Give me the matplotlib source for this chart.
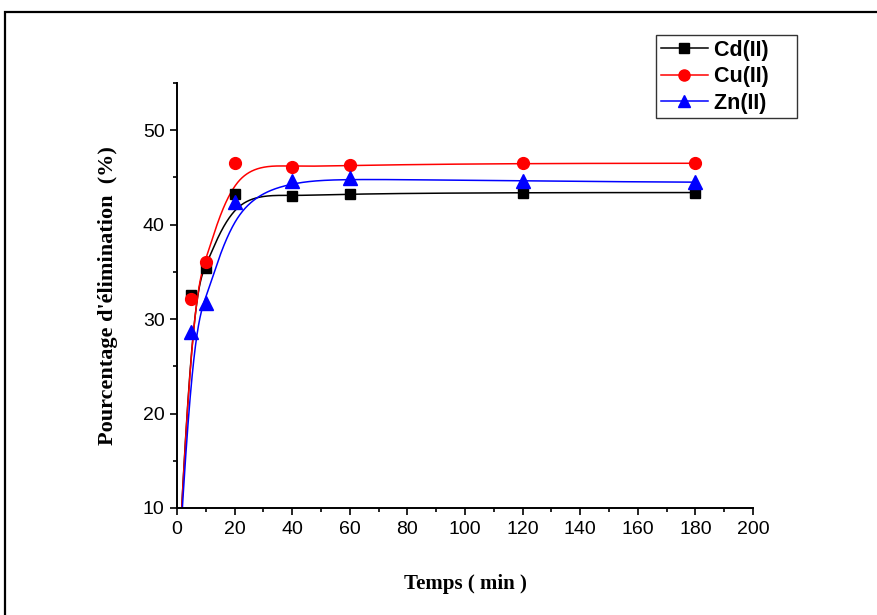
import numpy as np
import matplotlib
matplotlib.use("Agg")
import matplotlib.pyplot as plt
from matplotlib.patches import Rectangle
from matplotlib.ticker import MultipleLocator

# Contact time (min); the origin is included as the start of each kinetic curve
time_min = [0, 5, 10, 20, 40, 60, 120, 180]

cd_removal = [0, 32.6, 35.4, 43.3, 43.0, 43.3, 43.4, 43.4]
cu_removal = [0, 32.1, 36.0, 46.5, 46.1, 46.3, 46.5, 46.5]
zn_removal = [0, 28.6, 31.7, 42.4, 44.6, 44.9, 44.6, 44.5]

series_labels = ["Cd(II)", "Cu(II)", "Zn(II)"]


def bspline_curve(xs, ys, degree=3, num=600):
    """Clamped uniform B-spline using the measured points as control points."""
    pts = np.column_stack([xs, ys]).astype(float)
    n = len(pts)
    inner = np.linspace(0.0, 1.0, n - degree + 1)
    knots = np.concatenate([np.zeros(degree), inner, np.ones(degree)])
    u = np.linspace(0.0, 1.0 - 1e-10, num)
    # Cox-de Boor recursion
    N = np.zeros((num, len(knots) - 1))
    for i in range(len(knots) - 1):
        N[:, i] = (u >= knots[i]) & (u < knots[i + 1])
    for p in range(1, degree + 1):
        Nn = np.zeros((num, len(knots) - 1 - p))
        for i in range(len(knots) - 1 - p):
            d1 = knots[i + p] - knots[i]
            d2 = knots[i + p + 1] - knots[i + 1]
            a = (u - knots[i]) / d1 * N[:, i] if d1 > 0 else 0.0
            b = (knots[i + p + 1] - u) / d2 * N[:, i + 1] if d2 > 0 else 0.0
            Nn[:, i] = a + b
        N = Nn
    curve = N @ pts
    curve = np.vstack([curve, pts[-1]])
    return curve[:, 0], curve[:, 1]


fig = plt.figure(figsize=(8.77, 6.15), dpi=100)
ax = fig.add_axes([177 / 877, 1 - 508 / 615, 576 / 877, 425 / 615])

styles = [
    (cd_removal, "black", "s", 7.5),
    (cu_removal, "red", "o", 8.5),
    (zn_removal, "blue", "^", 9.5),
]

handles = []
for (vals, color, marker, ms), label in zip(styles, series_labels):
    cx, cy = bspline_curve(time_min, vals)
    ax.plot(cx, cy, color=color, lw=1.1, zorder=2)
    ax.plot(time_min, vals, linestyle="none", marker=marker, ms=ms,
            color=color, zorder=3, clip_on=True)
    h, = ax.plot([], [], color=color, lw=1.1, marker=marker, ms=ms - 0.5,
                 label=label)
    handles.append(h)

ax.set_xlim(0, 200)
ax.set_ylim(10, 55)
ax.xaxis.set_major_locator(MultipleLocator(20))
ax.xaxis.set_minor_locator(MultipleLocator(10))
ax.yaxis.set_major_locator(MultipleLocator(10))
ax.yaxis.set_minor_locator(MultipleLocator(5))
ax.set_yticks([10, 20, 30, 40, 50])

for side in ("top", "right"):
    ax.spines[side].set_visible(False)
for side in ("left", "bottom"):
    ax.spines[side].set_linewidth(1.4)

ax.tick_params(which="major", direction="out", length=5, width=1.2,
               labelsize=14, pad=4)
ax.tick_params(which="minor", direction="out", length=3, width=1.2)
for lab in ax.get_xticklabels() + ax.get_yticklabels():
    lab.set_family("Liberation Sans")

ax.set_xlabel("Temps ( min )", fontsize=15, fontweight="bold",
              family="Liberation Serif")
ax.set_ylabel("Pourcentage d'élimination  (%)", fontsize=16,
              fontweight="bold", family="Liberation Serif")
ax.xaxis.set_label_coords(0.5, -0.155)
ax.yaxis.set_label_coords(-0.102, 0.50)

# Legend labels get a little trailing room so the box is wider than the text
leg = ax.legend(handles=handles, labels=[s + "    " for s in series_labels],
                loc="upper right",
                bbox_to_anchor=(797 / 877, 1 - 35 / 615),
                bbox_transform=fig.transFigure,
                prop={"family": "Liberation Sans", "weight": "bold", "size": 15.5},
                frameon=True, fancybox=False, edgecolor="black",
                handlelength=2.2, handletextpad=0.25, labelspacing=0.25,
                borderpad=0.22, borderaxespad=0.0)
leg.get_frame().set_linewidth(1.0)

# Outer frame around the figure
fig.patches.append(Rectangle((5 / 877, -0.05), 1.1, 1 - 12 / 615 + 0.05,
                             transform=fig.transFigure, fill=False,
                             edgecolor="black", linewidth=1.6))

fig.savefig("out.png", dpi=100)
